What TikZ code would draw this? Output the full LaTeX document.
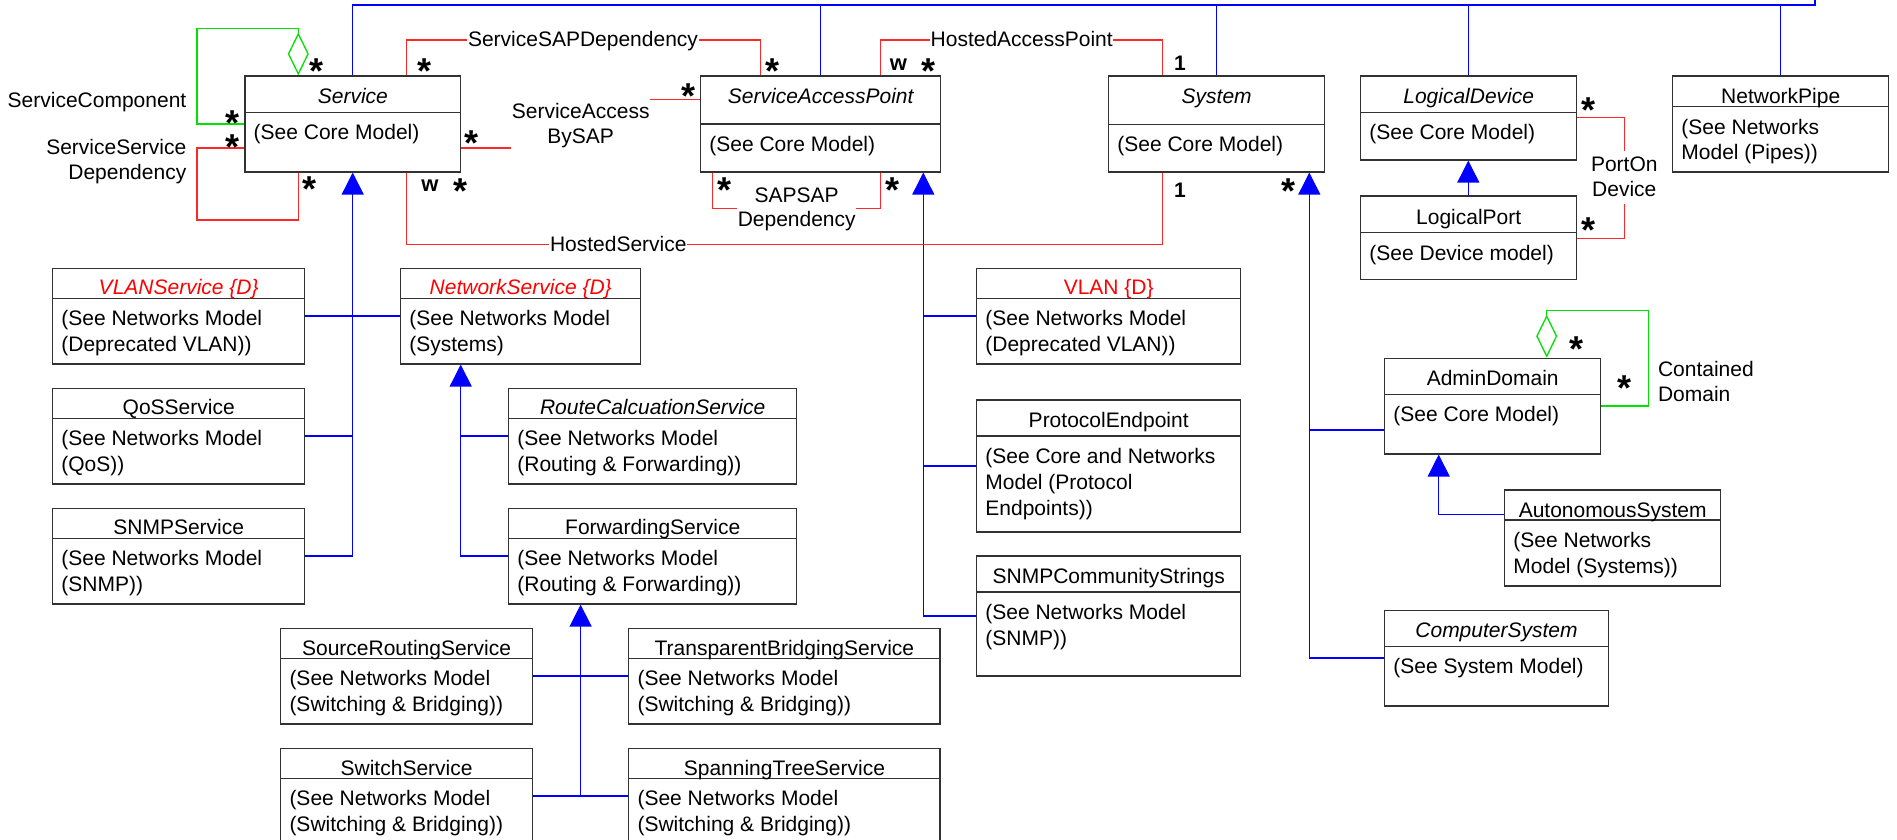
\documentclass[tikz,border=0pt]{standalone}
\usepackage{fontspec}
\setmainfont{Liberation Sans}
\usetikzlibrary{arrows.meta,fit}
\definecolor{umlblue}{RGB}{0,0,255}
\definecolor{umlred}{RGB}{255,40,40}
\definecolor{umlgreen}{RGB}{0,225,0}
\definecolor{boxgray}{RGB}{50,50,50}
\tikzset{
  classbox/.style={draw=boxgray, line width=1.2pt, inner sep=0pt},
  divline/.style={draw=boxgray, line width=1.2pt},
  ttlst/.style={font=\fontsize{21}{25}\selectfont, inner sep=0pt, anchor=base},
  bodst/.style={font=\fontsize{21}{25}\selectfont, inner sep=0pt, anchor=base west},
  lbl/.style={font=\fontsize{21}{25}\selectfont, inner sep=0.5pt, anchor=base},
  mstar/.style={font=\bfseries\fontsize{36}{36}\selectfont, inner sep=0pt, anchor=center},
  mtxt/.style={font=\bfseries\fontsize{21}{25}\selectfont, inner sep=0pt, anchor=base},
  bl/.style={draw=umlblue, line width=1.3pt},
  blthick/.style={draw=umlblue, line width=2.6pt},
  inh/.style={draw=umlblue, line width=1.3pt, -{Triangle[length=22pt,width=22pt]}},
  assoc/.style={draw=umlred, line width=1.3pt},
  compd/.style={draw=umlgreen, line width=1.3pt, -{Diamond[open,length=43pt,width=21pt]}},
}
\newcommand{\umlbox}[6]{%
  \node[classbox, fit={(#2,#3) (#4,#6)}] (#1) {};
  \draw[divline] (#1.west |- 0,#5) -- (#1.east |- 0,#5);
}
\newcommand{\mstarat}[3]{\node[mstar] (#1) at (#2,#3) {\raisebox{-0.37em}[0.3em][0pt]{*}};}
\begin{document}
\begin{tikzpicture}[x=1pt,y=-1pt]
\useasboundingbox (0,0) rectangle (1897,840);
\clip (0,0) rectangle (1897,840);

% ---------- class boxes ----------
\umlbox{svc}{245}{76}{460.7}{112.3}{172}
\umlbox{sap}{700.7}{76}{940.7}{124}{172}
\umlbox{sys}{1108.7}{76}{1324.7}{124.3}{172}
\umlbox{ld}{1360.7}{76}{1576.7}{112.3}{160}
\umlbox{np}{1672.7}{76}{1888.7}{106.3}{172}
\umlbox{lp}{1360.7}{196}{1576.7}{232.3}{279.3}
\umlbox{vlans}{52.7}{268.3}{304.7}{298.3}{364}
\umlbox{qos}{52.7}{388.3}{304.7}{418.3}{484}
\umlbox{snmps}{52.7}{508.3}{304.7}{538.3}{604}
\umlbox{nets}{400.7}{268.3}{640.7}{298.3}{364}
\umlbox{rcs}{508.7}{388.3}{796.7}{418.3}{484}
\umlbox{fwd}{508.7}{508.3}{796.7}{538.3}{604}
\umlbox{vlan}{976.7}{268.3}{1240.7}{298.3}{364}
\umlbox{pe}{976.7}{400}{1240.7}{436}{532}
\umlbox{snmpcs}{976.7}{556}{1240.7}{592}{676}
\umlbox{ad}{1384.7}{358.3}{1600.7}{394.3}{454}
\umlbox{as}{1504.7}{490}{1720.7}{520}{586}
\umlbox{cs}{1384.7}{610.7}{1608.3}{646.7}{706}
\umlbox{srs}{280.8}{628.3}{532.4}{658.3}{724}
\umlbox{tbs}{628.8}{628.3}{940}{658.3}{724}
\umlbox{sw}{280.8}{748.3}{532.4}{778.3}{844}
\umlbox{stp}{628.8}{748.3}{940}{778.3}{844}

% ---------- titles ----------
\node[ttlst] (svcT) at (352.85,103.5) {\itshape Service};
\node[ttlst] (sapT) at (820.7,103.5) {\itshape ServiceAccessPoint};
\node[ttlst] (sysT) at (1216.7,103.5) {\itshape System};
\node[ttlst] (ldT) at (1468.7,103.5) {\itshape LogicalDevice};
\node[ttlst] (npT) at (1780.7,104) {NetworkPipe};
\node[ttlst] (lpT) at (1468.7,224) {LogicalPort};
\node[ttlst, text=red] (vlansT) at (178.7,294.8) {\itshape VLANService \{D\}};
\node[ttlst] (qosT) at (178.7,414.8) {QoSService};
\node[ttlst] (snmpsT) at (178.7,534.8) {SNMPService};
\node[ttlst, text=red] (netsT) at (520.7,294.8) {\itshape NetworkService \{D\}};
\node[ttlst] (rcsT) at (652.7,414.8) {\itshape RouteCalcuationService};
\node[ttlst] (fwdT) at (652.7,534.8) {ForwardingService};
\node[ttlst, text=red] (vlanT) at (1108.7,294.8) {VLAN \{D\}};
\node[ttlst] (peT) at (1108.7,427.5) {ProtocolEndpoint};
\node[ttlst] (snmpcsT) at (1108.7,583.5) {SNMPCommunityStrings};
\node[ttlst] (adT) at (1492.7,385.8) {AdminDomain};
\node[ttlst] (asT) at (1612.7,517.5) {AutonomousSystem};
\node[ttlst] (csT) at (1496.5,637.5) {\itshape ComputerSystem};
\node[ttlst] (srsT) at (406.6,655.8) {SourceRoutingService};
\node[ttlst] (tbsT) at (784.4,655.8) {TransparentBridgingService};
\node[ttlst] (swT) at (406.6,775.8) {SwitchService};
\node[ttlst] (stpT) at (784.4,775.8) {SpanningTreeService};

% ---------- bodies ----------
\node[bodst] (svcB) at (253.5,139.5) {(See Core Model)};
\node[bodst] (sapB) at (709.2,151.5) {(See Core Model)};
\node[bodst] (sysB) at (1117.2,151.5) {(See Core Model)};
\node[bodst] (ldB) at (1369.2,139.5) {(See Core Model)};
\node[bodst] (npB1) at (1681.2,134.2) {(See Networks};
\node[bodst] (npB2) at (1681.2,159.8) {Model (Pipes))};
\node[bodst] (lpB) at (1369.2,260) {(See Device model)};
\node[bodst] (vlansB1) at (61.2,325.2) {(See Networks Model};
\node[bodst] (vlansB2) at (61.2,351.8) {(Deprecated VLAN))};
\node[bodst] (qosB1) at (61.2,445.2) {(See Networks Model};
\node[bodst] (qosB2) at (61.2,471.8) {(QoS))};
\node[bodst] (snmpsB1) at (61.2,565.2) {(See Networks Model};
\node[bodst] (snmpsB2) at (61.2,591.8) {(SNMP))};
\node[bodst] (netsB1) at (409.2,325.2) {(See Networks Model};
\node[bodst] (netsB2) at (409.2,351.8) {(Systems)};
\node[bodst] (rcsB1) at (517.2,445.2) {(See Networks Model};
\node[bodst] (rcsB2) at (517.2,471.8) {(Routing \& Forwarding))};
\node[bodst] (fwdB1) at (517.2,565.2) {(See Networks Model};
\node[bodst] (fwdB2) at (517.2,591.8) {(Routing \& Forwarding))};
\node[bodst] (vlanB1) at (985.2,325.2) {(See Networks Model};
\node[bodst] (vlanB2) at (985.2,351.8) {(Deprecated VLAN))};
\node[bodst] (peB1) at (985.2,463.2) {(See Core and Networks};
\node[bodst] (peB2) at (985.2,489.2) {Model (Protocol};
\node[bodst] (peB3) at (985.2,515.8) {Endpoints))};
\node[bodst] (snmpcsB1) at (985.2,619.2) {(See Networks Model};
\node[bodst] (snmpcsB2) at (985.2,645.8) {(SNMP))};
\node[bodst] (adB) at (1393.2,421.5) {(See Core Model)};
\node[bodst] (asB1) at (1513.2,547.5) {(See Networks};
\node[bodst] (asB2) at (1513.2,573.5) {Model (Systems))};
\node[bodst] (csB) at (1393.2,673.5) {(See System Model)};
\node[bodst] (srsB1) at (289.3,685.8) {(See Networks Model};
\node[bodst] (srsB2) at (289.3,711.5) {(Switching \& Bridging))};
\node[bodst] (tbsB1) at (637.3,685.8) {(See Networks Model};
\node[bodst] (tbsB2) at (637.3,711.5) {(Switching \& Bridging))};
\node[bodst] (swB1) at (289.3,805.8) {(See Networks Model};
\node[bodst] (swB2) at (289.3,831.5) {(Switching \& Bridging))};
\node[bodst] (stpB1) at (637.3,805.8) {(See Networks Model};
\node[bodst] (stpB2) at (637.3,831.5) {(Switching \& Bridging))};

% ---------- top bus (inheritance from an element outside the picture) ----------
\coordinate (busend) at (1815,-20);
\draw[bl] (svc.north -| 352.7,0) -- (352.7,5) -- (820.7,5);
\draw[blthick] (820.7,5) -- (1815,5) -- (busend);
\draw[bl] (sap.north -| 820.7,0) -- (820.7,5);
\draw[bl] (sys.north -| 1216.7,0) -- (1216.7,5);
\draw[bl] (ld.north -| 1468.3,0) -- (1468.3,5);
\draw[bl] (np.north -| 1780.7,0) -- (1780.7,5);

% ---------- inheritance ----------
\draw[inh] (snmps.east |- 0,556) -| (svc.south -| 352.7,0);
\draw[bl] (qos.east |- 0,436) -- (352.7,436);
\draw[bl] (vlans.east |- 0,316) -- (nets.west |- 0,316);
\draw[inh] (fwd.west |- 0,556) -| (nets.south -| 460.7,0);
\draw[bl] (rcs.west |- 0,436) -- (460.7,436);
\draw[inh] (sw.east |- 0,796) -| (fwd.south -| 580.6,0);
\draw[bl] (stp.west |- 0,796) -- (580.6,796);
\draw[bl] (srs.east |- 0,676) -- (tbs.west |- 0,676);
\draw[inh] (snmpcs.west |- 0,616) -| (sap.south -| 923.3,0);
\draw[bl] (pe.west |- 0,466) -- (923.3,466);
\draw[bl] (vlan.west |- 0,316) -- (923.3,316);
\draw[inh] (cs.west |- 0,658) -| (sys.south -| 1309.3,0);
\draw[bl] (ad.west |- 0,430) -- (1309.3,430);
\draw[inh] (as.west |- 0,514.3) -| (ad.south -| 1438.7,0);
\draw[inh] (lp.north -| 1468.3,0) -- (ld.south -| 1468.3,0);

% ---------- association labels ----------
\node[lbl, anchor=base east] (lsc) at (187,107.3) {ServiceComponent};
\node[lbl, anchor=base east] (lssd1) at (187,154) {ServiceService};
\node[lbl, anchor=base east] (lssd2) at (187,179.3) {Dependency};
\node[lbl] (ssd) at (583,46.7) {ServiceSAPDependency};
\node[lbl] (sab1) at (580.7,118.3) {ServiceAccess};
\node[lbl] (sab2) at (580.7,143.3) {BySAP};
\node[lbl] (ss1) at (796.7,202) {SAPSAP};
\node[lbl] (ssd2) at (796.7,226.7) {Dependency};
\node[lbl] (hap) at (1021.7,46.7) {HostedAccessPoint};
\node[lbl] (hs) at (618.3,251.7) {HostedService};
\node[lbl] (pod1) at (1624.3,171.7) {PortOn};
\node[lbl] (pod2) at (1624.3,196.7) {Device};
\node[lbl, anchor=base west] (cd1) at (1657.3,376) {Contained};
\node[lbl, anchor=base west] (cd2) at (1657.3,401) {Domain};

% ---------- associations ----------
\draw[assoc] (svc.west |- 0,148) -- (197,148) -- (197,220) -- (298.3,220) -- (svc.south -| 298.3,0);
\draw[assoc] (svc.north -| 406.7,0) -- (406.7,40) -- (ssd.west |- 0,40);
\draw[assoc] (ssd.east |- 0,40) -- (760.7,40) -- (sap.north -| 760.7,0);
\draw[assoc] (svc.east |- 0,148) -- (sab1.west |- 0,148);
\draw[assoc] (sab1.east |- 0,99.3) -- (sap.west |- 0,99.3);
\draw[assoc] (sap.south -| 712.7,0) -- (712.7,208.3) -- (ssd2.west |- 0,208.3);
\draw[assoc] (ssd2.east |- 0,208.3) -- (880.7,208.3) -- (sap.south -| 880.7,0);
\draw[assoc] (sap.north -| 880.7,0) -- (880.7,40) -- (hap.west |- 0,40);
\draw[assoc] (hap.east |- 0,40) -- (1162.7,40) -- (sys.north -| 1162.7,0);
\draw[assoc] (svc.south -| 406.7,0) -- (406.7,244.3) -- (hs.west |- 0,244.3);
\draw[assoc] (hs.east |- 0,244.3) -- (1162.7,244.3) -- (sys.south -| 1162.7,0);
\draw[assoc] (ld.east |- 0,117.7) -- (1624.3,117.7) -- (pod1.north |- 0,150.7);
\draw[assoc] (pod2.south |- 0,204) -- (1624.3,238.3) -- (lp.east |- 0,238.3);

% ---------- aggregations ----------
\draw[compd] (svc.west |- 0,124) -- (197,124) -- (197,28.3) -- (298.3,28.3) -- (svc.north -| 298.3,0);
\draw[compd] (ad.east |- 0,406) -- (1648.3,406) -- (1648.3,310.7) -- (1546.7,310.7) -- (ad.north -| 1546.7,0);

% ---------- multiplicities ----------
\mstarat{m1}{317}{65}
\mstarat{m2}{232.3}{116.7}
\mstarat{m3}{232.3}{140.7}
\mstarat{m4}{310}{183}
\mstarat{m5}{424}{65}
\mstarat{m6}{772}{65}
\mstarat{m7}{688.3}{89.3}
\mstarat{m8}{471.7}{136.7}
\mstarat{m9}{724}{184}
\mstarat{m10}{892.3}{184}
\mstarat{m11}{928.3}{65}
\mstarat{m12}{460}{185}
\mstarat{m13}{1288.3}{185}
\mstarat{m14}{1588}{104}
\mstarat{m15}{1588.3}{223.3}
\mstarat{m16}{1576.7}{342.7}
\mstarat{m17}{1624.3}{381.7}
\node[mtxt, font=\bfseries\fontsize{22}{25}\selectfont] (w1) at (430,191.5) {w};
\node[mtxt, font=\bfseries\fontsize{22}{25}\selectfont] (w2) at (898.3,71) {w};
\node[mtxt] (one1) at (1180,71) {1};
\node[mtxt] (one2) at (1180,197.3) {1};
\end{tikzpicture}
\end{document}
